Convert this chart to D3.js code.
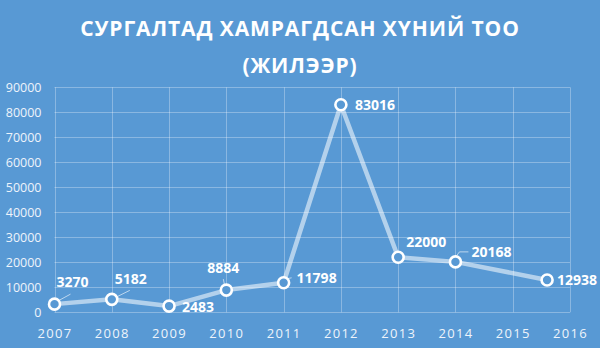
<!DOCTYPE html>
<html>
<head>
<meta charset="utf-8">
<script src="https://cdn.jsdelivr.net/npm/d3@7"></script>
<style>
  html, body { margin: 0; padding: 0; background: #5899d4; }
  svg { display: block; }
</style>
</head>
<body>
<div id="chart"></div>
<script>
// data
const titleLines = ["СУРГАЛТАД ХАМРАГДСАН ХҮНИЙ ТОО", "(ЖИЛЭЭР)"];
const years = [2007, 2008, 2009, 2010, 2011, 2012, 2013, 2014, 2015.6];
const trainees = [3270, 5182, 2483, 8884, 11798, 83016, 22000, 20168, 12938];
const xTicks = [2007, 2008, 2009, 2010, 2011, 2012, 2013, 2014, 2015, 2016];
const yTicks = [0, 10000, 20000, 30000, 40000, 50000, 60000, 70000, 80000, 90000];

// label placement (text offset from point, optional leader path)
const labelOffsets = [
    { dx: 2, dy: -17, leader: [[5, -4], [16, -10]] },
    { dx: 3, dy: -15, leader: [[6, -3], [18, -9]] },
    { dx: 13, dy: 6 },
    { dx: -19, dy: -17, leader: [[-3, -11], [-2, -6]] },
    { dx: 13, dy: 0, leader: [[3, -4], [8, -5]] },
    { dx: 14, dy: 5.5 },
    { dx: 8, dy: -10 },
    { dx: 16, dy: -5, leader: [[1, -6], [4, -10], [13, -10]] },
    { dx: 10, dy: 5 }
];

const width = 600, height = 348;
const margin = { top: 87.3, right: 30, bottom: 35.7, left: 54.5 };
const bg = "#5899d4";

const svg = d3.select("#chart").append("svg")
    .attr("width", width)
    .attr("height", height);

svg.append("rect")
    .attr("width", width).attr("height", height)
    .attr("fill", bg);

// title
svg.append("g")
    .selectAll("text")
    .data(titleLines)
    .join("text")
    .attr("x", width / 2)
    .attr("y", (d, i) => 36 + i * 37)
    .attr("text-anchor", "middle")
    .attr("fill", "#fff")
    .style("font-family", "'Open Sans', sans-serif")
    .style("font-weight", "bold")
    .style("font-size", "21px")
    .style("letter-spacing", "0.9px")
    .text(d => d);

const x = d3.scaleLinear()
    .domain([2007, 2016])
    .range([margin.left, width - margin.right]);

const y = d3.scaleLinear()
    .domain([0, 90000])
    .range([height - margin.bottom, margin.top]);

// grid
const grid = svg.append("g")
    .attr("stroke", "#fff")
    .attr("stroke-opacity", 0.3)
    .attr("stroke-width", 1);

grid.selectAll("line.h")
    .data(yTicks)
    .join("line")
    .attr("class", "h")
    .attr("x1", x(2007)).attr("x2", x(2016))
    .attr("y1", d => Math.round(y(d)) + 0.5)
    .attr("y2", d => Math.round(y(d)) + 0.5);

grid.selectAll("line.v")
    .data(xTicks)
    .join("line")
    .attr("class", "v")
    .attr("y1", y(0)).attr("y2", y(90000))
    .attr("x1", d => Math.round(x(d)) + 0.5)
    .attr("x2", d => Math.round(x(d)) + 0.5);

// axes
const yAxis = svg.append("g")
    .attr("transform", `translate(${margin.left - 13},0)`)
    .call(d3.axisLeft(y).tickValues(yTicks).tickSize(0).tickPadding(0).tickFormat(d3.format("d")));
yAxis.select(".domain").remove();
yAxis.selectAll("text")
    .attr("fill", "#eef4fb")
    .attr("dy", "0.35em")
    .style("font-family", "'Open Sans', sans-serif")
    .style("font-size", "12.5px");

const xAxis = svg.append("g")
    .attr("transform", `translate(0,${height - margin.bottom})`)
    .call(d3.axisBottom(x).tickValues(xTicks).tickSize(0).tickPadding(16).tickFormat(d3.format("d")));
xAxis.select(".domain").remove();
xAxis.selectAll("text")
    .attr("fill", "#eef4fb")
    .style("font-family", "'Open Sans', sans-serif")
    .style("font-size", "13px")
    .style("letter-spacing", "1.3px");

const points = years.map((yr, i) => ({ year: yr, value: trainees[i], lab: labelOffsets[i] }));

// line
svg.append("path")
    .datum(points)
    .attr("fill", "none")
    .attr("stroke", "#fff")
    .attr("stroke-opacity", 0.55)
    .attr("stroke-width", 4.5)
    .attr("stroke-linejoin", "round")
    .attr("d", d3.line().x(d => x(d.year)).y(d => y(d.value)));

// leader lines
svg.append("g")
    .selectAll("path")
    .data(points.filter(d => d.lab.leader))
    .join("path")
    .attr("fill", "none")
    .attr("stroke", "#fff")
    .attr("stroke-opacity", 0.6)
    .attr("stroke-width", 1)
    .attr("d", d => d3.line()(d.lab.leader.map(([a, b]) => [x(d.year) + a, y(d.value) + b])));

// markers
svg.append("g")
    .selectAll("circle")
    .data(points)
    .join("circle")
    .attr("cx", d => x(d.year))
    .attr("cy", d => y(d.value))
    .attr("r", 5.5)
    .attr("fill", bg)
    .attr("stroke", "#fff")
    .attr("stroke-width", 2.6);

// value labels
svg.append("g")
    .selectAll("text")
    .data(points)
    .join("text")
    .attr("x", d => x(d.year) + d.lab.dx)
    .attr("y", d => y(d.value) + d.lab.dy)
    .attr("fill", "#fff")
    .style("font-family", "'Open Sans', sans-serif")
    .style("font-weight", "bold")
    .style("font-size", "14px")
    .text(d => d.value);
</script>
</body>
</html>
